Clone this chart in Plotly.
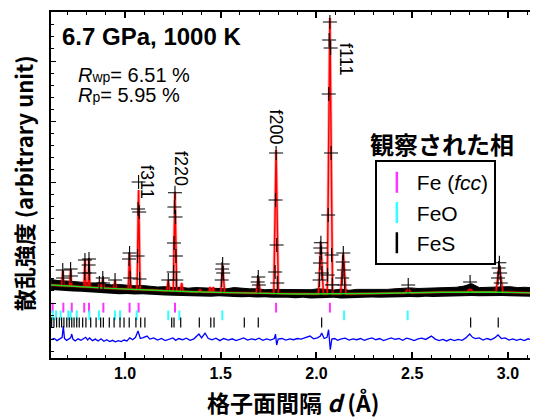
import plotly.graph_objects as go

# ---------------- data ----------------
# background (green) knots: d (Å), intensity (arb.)
bg_d = [0.614, 0.76, 0.92, 1.15, 1.35, 1.60, 1.90, 2.30, 2.65, 2.90, 3.157]
bg_I = [298, 270, 241, 212, 186, 168, 149, 157, 179, 182, 165]

# calculated peaks: centre, top, base, half width
peak_d = [0.675, 0.716, 0.791, 0.812, 0.866, 0.884, 0.948, 1.024, 1.071, 1.226,
          1.261, 1.296, 1.392, 1.444, 1.461, 1.510, 1.696, 1.789, 2.023, 2.070,
          2.140, 2.479, 2.802, 2.955]
peak_top = [545, 562, 727, 744, 347, 413, 380, 826, 1868, 380,
            1840, 331, 215, 264, 264, 628, 430, 2529, 992, 4711,
            826, 231, 231, 628]
peak_base = [287, 280, 266, 262, 252, 249, 238, 228, 221, 202,
             198, 193, 183, 179, 178, 175, 164, 158, 151, 151,
             151, 166, 182, 182]
peak_hw = [0.005, 0.005, 0.005, 0.005, 0.005, 0.006, 0.006, 0.007, 0.008, 0.008,
           0.009, 0.008, 0.009, 0.006, 0.006, 0.010, 0.011, 0.012, 0.013, 0.014,
           0.014, 0.016, 0.017, 0.018]

# observed data: noisy band envelope
band_d = [0.614, 0.65, 0.69, 0.73, 0.77, 0.81, 0.85, 0.89, 0.93, 0.97, 1.01, 1.05,
          1.09, 1.13, 1.17, 1.21, 1.25, 1.29, 1.33, 1.37, 1.41, 1.45, 1.49, 1.53,
          1.57, 1.61, 1.65, 1.69, 1.73, 1.77, 1.81, 1.85, 1.89, 1.93, 1.97, 2.01,
          2.05, 2.09, 2.13, 2.17, 2.21, 2.25, 2.29, 2.33, 2.37, 2.41, 2.45, 2.49,
          2.53, 2.57, 2.61, 2.65, 2.69, 2.73, 2.77, 2.81, 2.85, 2.89, 2.93, 2.97,
          3.01, 3.05, 3.09, 3.13, 3.157]
band_hi = [390, 370, 365, 360, 345, 335, 325, 310, 300, 305, 290, 285,
           290, 275, 265, 270, 255, 260, 245, 255, 250, 240, 235, 235,
           255, 240, 235, 235, 220, 225, 225, 215, 220, 225, 220, 235,
           225, 215, 230, 210, 225, 225, 220, 230, 225, 235, 245, 250,
           240, 245, 245, 255, 250, 260, 280, 320, 255, 260, 270, 265,
           270, 255, 260, 250, 245]
band_lo = [215, 205, 195, 190, 185, 175, 165, 160, 155, 145, 150, 140,
           145, 135, 130, 125, 120, 115, 120, 110, 110, 105, 110, 100,
           100, 95, 100, 90, 95, 85, 90, 85, 80, 85, 75, 80,
           75, 85, 75, 80, 85, 80, 90, 85, 90, 95, 90, 100,
           95, 105, 100, 105, 110, 105, 110, 115, 110, 115, 110, 115,
           110, 105, 100, 105, 100]

# observed data points on peaks
obs_d = [2.070, 2.066, 2.074, 2.064, 2.076, 2.061, 2.079, 2.058, 2.082,
         1.789, 1.786, 1.792, 1.784, 1.795,
         1.261, 1.258, 1.264, 1.256, 1.266, 1.254, 1.268,
         1.071, 1.068, 1.074, 1.066, 1.076,
         1.024, 1.021, 1.027,
         0.791, 0.789, 0.812, 0.810, 0.814,
         0.675, 0.677, 0.716, 0.718, 0.884, 0.886, 0.866, 0.948, 1.226,
         1.510, 1.507, 1.513, 1.505,
         1.696, 1.693, 1.699,
         2.023, 2.020, 2.026, 2.018, 2.028, 2.016,
         2.140, 2.137, 2.143, 2.134, 2.146,
         2.955, 2.951, 2.959, 2.948, 2.962,
         2.479, 2.802]
obs_I = [4645, 4347, 4215, 3455, 2480, 1455, 793, 463, 300,
         2480, 1703, 959, 512, 330,
         1823, 1587, 1422, 992, 777, 512, 380,
         2000, 1554, 1504, 777, 397,
         826, 727, 413,
         711, 496, 727, 628, 496,
         545, 413, 562, 446, 413, 331, 331, 380, 380,
         645, 562, 496, 380,
         430, 347, 298,
         997, 909, 826, 661, 496, 380,
         826, 678, 545, 413, 298,
         666, 579, 496, 413, 331,
         298, 347]

# difference (obs - calc)
diff_d = [0.614, 0.630, 0.645, 0.660, 0.672, 0.678, 0.684, 0.695, 0.705, 0.716, 0.722, 0.728,
          0.740, 0.755, 0.770, 0.785, 0.795, 0.805, 0.815, 0.830, 0.845, 0.860, 0.875, 0.890,
          0.905, 0.920, 0.935, 0.950, 0.965, 0.980, 0.995, 1.010, 1.025, 1.040, 1.055, 1.068,
          1.080, 1.095, 1.115, 1.130, 1.150, 1.170, 1.190, 1.210, 1.230, 1.250, 1.265, 1.280,
          1.300, 1.320, 1.340, 1.360, 1.386, 1.400, 1.418, 1.435, 1.455, 1.475, 1.495, 1.515,
          1.540, 1.560, 1.580, 1.600, 1.620, 1.640, 1.660, 1.680, 1.700, 1.720, 1.740, 1.760,
          1.780, 1.786, 1.792, 1.800, 1.820, 1.840, 1.860, 1.880, 1.900, 1.920, 1.945, 1.966,
          1.985, 2.005, 2.020, 2.027, 2.040, 2.055, 2.063, 2.068, 2.072, 2.080, 2.095, 2.110,
          2.130, 2.150, 2.170, 2.190, 2.210, 2.230, 2.250, 2.270, 2.290, 2.310, 2.330, 2.350,
          2.370, 2.390, 2.410, 2.430, 2.450, 2.470, 2.490, 2.510, 2.530, 2.550, 2.570, 2.600,
          2.620, 2.640, 2.660, 2.680, 2.700, 2.720, 2.740, 2.760, 2.780, 2.800, 2.815, 2.830,
          2.850, 2.870, 2.890, 2.910, 2.930, 2.948, 2.965, 2.985, 3.005, 3.025, 3.045, 3.065,
          3.085, 3.105, 3.125, 3.145, 3.157]
diff_v = [0, 20, -15, 10, 40, 226, 20, -10, 15, 30, 94, 10,
          -20, 15, -10, 20, 40, -5, 30, -15, 10, -20, 15, -25,
          0, -30, -10, -35, -15, -30, -5, -20, 30, 0, 40, 144,
          20, 35, 60, 10, 30, -5, 20, -15, 10, 30, -10, 20,
          0, 25, -10, 15, 94, 30, 110, 20, 0, 25, -15, 20,
          -5, 15, -15, 10, 30, -5, 15, 0, 25, -10, 15, -5,
          20, 94, -88, 10, 20, -5, 15, 0, 20, 10, 35, 60,
          15, 30, 60, 110, 20, 40, 165, -40, -165, 10, 20, -10,
          15, 25, -5, 15, 0, 20, -10, 15, 30, 0, 20, -15,
          10, 30, 5, 20, -10, 25, 10, -15, 15, 25, 5, 60,
          10, -15, 5, -20, 10, -15, 5, -10, 30, 95, 40, 20,
          30, -5, 20, 0, 30, 80, 20, 30, -5, 15, -10, 10,
          -15, 15, -5, 20, 0]

# reflection positions (d, Å)
fe_ticks = [0.622, 0.678, 0.722, 0.787, 0.812, 0.887, 1.024, 1.071, 1.261, 1.789, 2.070]
feo_ticks = [0.622, 0.640, 0.664, 0.704, 0.716, 0.748, 0.814, 0.864, 0.948, 0.974, 1.061,
             1.226, 1.284, 1.508, 2.144, 2.476]
fes_ticks = [0.617, 0.629, 0.643, 0.657, 0.669, 0.681, 0.696, 0.709, 0.722, 0.734, 0.748,
             0.761, 0.779, 0.796, 0.821, 0.849, 0.873, 0.887, 0.918, 0.943, 0.974, 0.995,
             1.022, 1.057, 1.082, 1.104, 1.244, 1.256, 1.291, 1.388, 1.448, 1.465, 1.623,
             1.696, 2.027, 2.805, 2.949]

phase_names = ["Fe (<i>fcc</i>)", "FeO", "FeS"]

# ---------------- layout constants ----------------
DIFF_OFFSET = -607
FE_Y, FEO_Y, FES_Y = -77, -204, -322
LAT = "Liberation Sans, Arial, Noto Sans CJK JP"
CJK = "Noto Sans CJK JP, Liberation Sans"

# build calculated profile from the background knots and peak table
pts = list(zip(bg_d, bg_I))
for c, top, base, hw in zip(peak_d, peak_top, peak_base, peak_hw):
    pts += [(c - hw, base), (c, top), (c + hw, base)]
pts.sort()
calc_d = [p[0] for p in pts]
calc_I = [p[1] for p in pts]

fig = go.Figure()

# observed band
fig.add_trace(go.Scatter(x=band_d, y=band_lo, mode="lines", line=dict(width=0, color="black"),
                         showlegend=False, hoverinfo="skip"))
fig.add_trace(go.Scatter(x=band_d, y=band_hi, mode="lines", line=dict(width=1, color="black"),
                         fill="tonexty", fillcolor="black", showlegend=False, hoverinfo="skip"))
# calc halo + line
fig.add_trace(go.Scatter(x=calc_d, y=calc_I, mode="lines", line=dict(color="rgba(255,0,0,0.3)", width=3.2),
                         showlegend=False, hoverinfo="skip"))
fig.add_trace(go.Scatter(x=calc_d, y=calc_I, mode="lines", line=dict(color="#ff0000", width=1.5),
                         showlegend=False))
# background
fig.add_trace(go.Scatter(x=bg_d, y=bg_I, mode="lines", line=dict(color="#22dd22", width=1.4),
                         showlegend=False))
# observed crosses
fig.add_trace(go.Scatter(x=obs_d, y=obs_I, mode="markers",
                         marker=dict(symbol="cross-thin", size=10, line=dict(color="black", width=1.1)),
                         showlegend=False))
# difference
fig.add_trace(go.Scatter(x=diff_d, y=[v + DIFF_OFFSET for v in diff_v], mode="lines",
                         line=dict(color="#0000ff", width=1.3), showlegend=False))

# reflection ticks
for ticks, yy, col, w in [(fe_ticks, FE_Y, "#ff33ff", 2), (feo_ticks, FEO_Y, "#33ffff", 2),
                          (fes_ticks, FES_Y, "black", 1.2)]:
    fig.add_trace(go.Scatter(x=ticks, y=[yy] * len(ticks), mode="markers",
                             marker=dict(symbol="line-ns", size=7, line=dict(color=col, width=w)),
                             showlegend=False))

# legend entries
for name, col in zip(phase_names, ["#ff33ff", "#33ffff", "black"]):
    fig.add_trace(go.Scatter(x=[None], y=[None], mode="markers", name=name,
                             marker=dict(symbol="line-ns", size=15, line=dict(color=col, width=2.5))))

ann = [
    dict(text="<b>6.7 GPa, 1000 K</b>", xref="paper", yref="paper", x=0.0195, y=0.928,
         xanchor="left", yanchor="middle", font=dict(size=24, family=LAT)),
    dict(text="<i>R</i><span style='font-size:14px'>wp</span>= 6.51 %", xref="paper", yref="paper",
         x=0.051, y=0.818, xanchor="left", yanchor="middle", font=dict(size=20, family=LAT)),
    dict(text="<i>R</i><span style='font-size:14px'>p</span>= 5.95 %", xref="paper", yref="paper",
         x=0.051, y=0.760, xanchor="left", yanchor="middle", font=dict(size=20, family=LAT)),
    dict(text="f111", x=2.154, y=4033, textangle=90, font=dict(size=18, family=LAT)),
    dict(text="f200", x=1.786, y=2909, textangle=90, font=dict(size=18, family=LAT)),
    dict(text="f220", x=1.292, y=2215, textangle=90, font=dict(size=18, family=LAT)),
    dict(text="f311", x=1.115, y=2000, textangle=90, font=dict(size=18, family=LAT)),
    dict(text="<b>観察された相</b>", xref="paper", yref="paper", x=0.803, y=0.621,
         xanchor="center", yanchor="middle", font=dict(size=24, family=CJK)),
    dict(text="<b>格子面間隔 <i>d</i> (Å)</b>", xref="paper", yref="paper", x=0.497, y=-0.127,
         xanchor="center", yanchor="middle", font=dict(size=23, family=CJK)),
    dict(text="<b>散乱強度 (arbitrary unit)</b>", xref="paper", yref="paper", x=-0.0575, y=0.505,
         xanchor="center", yanchor="middle", textangle=-90, font=dict(size=22, family=CJK)),
]
for a in ann:
    a.setdefault("showarrow", False)
    a["font"].setdefault("color", "black")

# the page body adds an 8 px offset, so the figure is sized/margined to compensate
fig.update_layout(
    width=530, height=410,
    margin=dict(l=43, r=0, t=4, b=60),
    plot_bgcolor="white", paper_bgcolor="white",
    font=dict(family=LAT, color="black"),
    annotations=ann,
    legend=dict(x=0.665, y=0.572, xanchor="left", yanchor="top", bgcolor="white",
                bordercolor="black", borderwidth=2, font=dict(size=21, family=LAT, color="black"),
                tracegroupgap=0, traceorder="normal"),
    xaxis=dict(range=[0.6136, 3.1567], showline=True, linecolor="black", linewidth=2, mirror="ticks",
               ticks="inside", ticklen=6, tickwidth=1.5, tickcolor="black", dtick=0.5, tick0=0,
               tickformat=".1f", showgrid=False, zeroline=False,
               tickfont=dict(size=16, family=LAT, color="black", weight="bold"),
               minor=dict(ticks="inside", ticklen=3, dtick=0.1, tickcolor="black", tickwidth=1)),
    yaxis=dict(range=[-909, 4810], showline=True, linecolor="black", linewidth=2, mirror=False,
               ticks="inside", ticklen=5, tickwidth=1.2, tickcolor="black", dtick=1000, tick0=0,
               showticklabels=False, showgrid=False, zeroline=False,
               minor=dict(ticks="inside", ticklen=3, dtick=200, tickcolor="black", tickwidth=1)),
)

fig.write_html("out.html")
